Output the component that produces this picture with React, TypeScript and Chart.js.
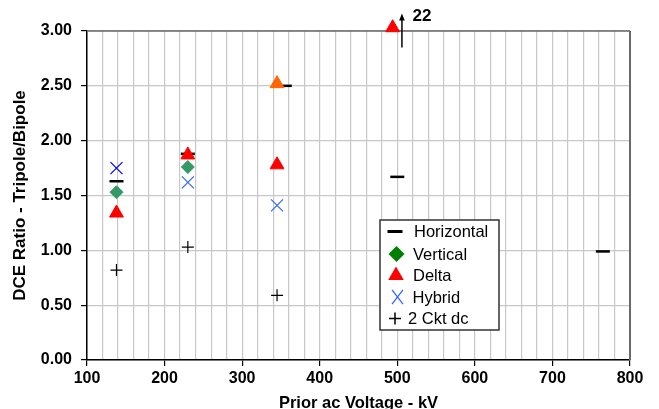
import React, { useEffect, useRef } from 'react';
import { Chart, registerables } from 'chart.js';

Chart.register(...registerables);

// ---- data ----
const horizontalKV = [138, 230, 355, 500, 765];
const horizontalRatio = [1.63, 1.88, 2.5, 1.67, 0.99];

const verticalKV = [138, 230];
const verticalRatio = [1.53, 1.76];

const deltaKV = [138, 230, 345, 345, 494];
const deltaRatio = [1.34, 1.87, 1.78, 2.52, 3.03];
const deltaColors = ['#FF0000', '#FF0000', '#FF0000', '#FF6600', '#FF0000'];

const hybridKV = [138, 230, 345];
const hybridRatio = [1.75, 1.62, 1.41];
const hybridColors = ['#0000FF', '#3366FF', '#3366FF'];

const ckt2KV = [138, 230, 345];
const ckt2Ratio = [0.82, 1.03, 0.59];

const seriesLabels = ['Horizontal', 'Vertical', 'Delta', 'Hybrid', '2 Ckt dc'];
const legendColors = ['#000000', '#008000', '#FF0000', '#3366FF', '#000000'];

// off-scale annotation
const arrowKV = 506;
const arrowFrom = 2.85;
const arrowTo = 3.16;
const arrowLabel = '22';

const toPts = (xs: number[], ys: number[]) => xs.map((x, i) => ({ x, y: ys[i] }));

function drawMarker(ctx: CanvasRenderingContext2D, style: string, color: string, x: number, y: number) {
  ctx.save();
  ctx.fillStyle = color;
  ctx.strokeStyle = color;
  ctx.beginPath();
  if (style === 'line') {
    ctx.lineWidth = 3;
    ctx.moveTo(x - 7.5, y);
    ctx.lineTo(x + 7.5, y);
    ctx.stroke();
  } else if (style === 'rectRot') {
    const r = 8;
    ctx.moveTo(x - r, y);
    ctx.lineTo(x, y - r);
    ctx.lineTo(x + r, y);
    ctx.lineTo(x, y + r);
    ctx.closePath();
    ctx.fill();
  } else if (style === 'triangle') {
    const r = 9;
    ctx.moveTo(x, y - r);
    ctx.lineTo(x + r * 0.866, y + r / 2);
    ctx.lineTo(x - r * 0.866, y + r / 2);
    ctx.closePath();
    ctx.fill();
  } else if (style === 'crossRot') {
    const h = 5.5;
    ctx.lineWidth = 1.3;
    ctx.moveTo(x - h, y - h * 1.3);
    ctx.lineTo(x + h, y + h * 1.3);
    ctx.moveTo(x + h, y - h * 1.3);
    ctx.lineTo(x - h, y + h * 1.3);
    ctx.stroke();
  } else if (style === 'cross') {
    const h = 6;
    ctx.lineWidth = 1.5;
    ctx.moveTo(x - h, y);
    ctx.lineTo(x + h, y);
    ctx.moveTo(x, y - h);
    ctx.lineTo(x, y + h);
    ctx.stroke();
  }
  ctx.restore();
}

const framePlugin = {
  id: 'frame',
  beforeDatasetsDraw(chart: any) {
    const { ctx, chartArea: a } = chart;
    ctx.save();
    ctx.strokeStyle = '#6A6A6A';
    ctx.lineWidth = 1.5;
    ctx.beginPath();
    ctx.moveTo(a.left, a.top);
    ctx.lineTo(a.right, a.top);
    ctx.stroke();
    ctx.lineWidth = 2;
    ctx.beginPath();
    ctx.moveTo(a.right, a.top);
    ctx.lineTo(a.right, a.bottom);
    ctx.stroke();
    ctx.restore();
  },
};

const annotPlugin = {
  id: 'annot',
  afterDatasetsDraw(chart: any) {
    const { ctx } = chart;
    const xs = chart.scales.x;
    const ys = chart.scales.y;
    const px = xs.getPixelForValue(arrowKV);
    const y0 = ys.getPixelForValue(arrowFrom);
    const y1 = ys.getPixelForValue(arrowTo);
    ctx.save();
    ctx.strokeStyle = '#000';
    ctx.fillStyle = '#000';
    ctx.lineWidth = 1.5;
    ctx.beginPath();
    ctx.moveTo(px, y0);
    ctx.lineTo(px, y1 + 5);
    ctx.stroke();
    ctx.beginPath();
    ctx.moveTo(px, y1);
    ctx.lineTo(px + 2.8, y1 + 7);
    ctx.lineTo(px - 2.8, y1 + 7);
    ctx.closePath();
    ctx.fill();
    ctx.font = 'bold 17px "Liberation Sans"';
    ctx.textAlign = 'left';
    ctx.textBaseline = 'middle';
    ctx.fillText(arrowLabel, px + 10.5, y1 + 3);
    ctx.restore();
  },
};

const legendPlugin = {
  id: 'boxLegend',
  afterDraw(chart: any) {
    const { ctx } = chart;
    const left = 380;
    const top = 220;
    const w = 119;
    const h = 110;
    ctx.save();
    ctx.fillStyle = '#FFFFFF';
    ctx.fillRect(left, top, w, h);
    ctx.strokeStyle = '#333333';
    ctx.lineWidth = 1.5;
    ctx.strokeRect(left, top, w, h);
    const rowY = [231.5, 254, 275.5, 297, 318.5];
    const markerX = [395, 396.5, 396, 397.5, 395];
    const textX = [414, 413, 413, 412.5, 408];
    chart.data.datasets.forEach((ds: any, i: number) => {
      drawMarker(ctx, ds.pointStyle, legendColors[i], markerX[i], rowY[i]);
      ctx.fillStyle = '#000';
      ctx.font = '16.5px "Liberation Sans"';
      ctx.textAlign = 'left';
      ctx.textBaseline = 'middle';
      ctx.fillText(seriesLabels[i], textX[i], rowY[i] + 1);
    });
    ctx.restore();
  },
};

export default function App() {
  const ref = useRef<HTMLCanvasElement>(null);
  useEffect(() => {
    const tickFont = { family: '"Liberation Sans"', weight: 'bold' as const, size: 16 };
    const chart = new Chart(ref.current!, {
      type: 'scatter',
      data: {
        datasets: [
          {
            label: seriesLabels[0],
            data: toPts(horizontalKV, horizontalRatio),
            pointStyle: 'line',
            pointRadius: 7,
            pointBorderWidth: 2.5,
            borderColor: '#000000',
            backgroundColor: '#000000',
            order: 5,
            clip: false,
          },
          {
            label: seriesLabels[1],
            data: toPts(verticalKV, verticalRatio),
            pointStyle: 'rectRot',
            pointRadius: 6.5,
            pointBorderWidth: 1,
            borderColor: '#339966',
            backgroundColor: '#339966',
            order: 4,
            clip: false,
          },
          {
            label: seriesLabels[2],
            data: toPts(deltaKV, deltaRatio),
            pointStyle: 'triangle',
            pointRadius: 8,
            pointBorderWidth: 1,
            pointBorderColor: deltaColors,
            pointBackgroundColor: deltaColors,
            borderColor: '#FF0000',
            backgroundColor: '#FF0000',
            order: 3,
            clip: false,
          },
          {
            label: seriesLabels[3],
            data: toPts(hybridKV, hybridRatio),
            pointStyle: 'crossRot',
            pointRadius: 8.5,
            pointBorderWidth: 1.2,
            pointBorderColor: hybridColors,
            pointBackgroundColor: hybridColors,
            borderColor: '#3366FF',
            backgroundColor: '#3366FF',
            order: 2,
            clip: false,
          },
          {
            label: seriesLabels[4],
            data: toPts(ckt2KV, ckt2Ratio),
            pointStyle: 'cross',
            pointRadius: 6,
            pointBorderWidth: 1.2,
            borderColor: '#000000',
            backgroundColor: '#000000',
            order: 1,
            clip: false,
          },
        ],
      },
      options: {
        animation: false,
        responsive: true,
        maintainAspectRatio: false,
        layout: { padding: { top: 31, right: 29, left: 0, bottom: 0 } },
        plugins: {
          legend: { display: false },
          tooltip: { enabled: false },
        },
        scales: {
          x: {
            type: 'linear',
            min: 100,
            max: 800,
            afterFit: (s: any) => {
              s.height = 49;
            },
            ticks: {
              stepSize: 20,
              autoSkip: false,
              maxRotation: 0,
              padding: 2.5,
              color: '#000',
              font: tickFont,
              callback: (v: any) => (Number(v) % 100 === 0 ? String(v) : ''),
            },
            grid: {
              color: '#C8C8C8',
              lineWidth: 1.2,
              tickLength: 6,
              tickColor: (c: any) => (c.tick && c.tick.value % 100 === 0 ? '#000' : 'rgba(0,0,0,0)'),
              tickWidth: 1.2,
            },
            border: { color: '#000', width: 1.5 },
            title: {
              display: true,
              text: 'Prior ac Voltage - kV',
              color: '#000',
              font: { family: '"Liberation Sans"', weight: 'bold', size: 16.5, lineHeight: 0.65 },
              padding: { top: 0, bottom: 0 },
            },
          },
          y: {
            type: 'linear',
            min: 0,
            max: 3,
            afterFit: (s: any) => {
              s.width = 87;
            },
            ticks: {
              stepSize: 0.5,
              padding: 9,
              color: '#000',
              font: tickFont,
              callback: (v: any) => Number(v).toFixed(2),
            },
            grid: {
              color: '#C8C8C8',
              lineWidth: 1.2,
              tickLength: 6,
              tickColor: '#000',
              tickWidth: 1.2,
            },
            border: { color: '#000', width: 1.5 },
            title: {
              display: true,
              text: 'DCE Ratio - Tripole/Bipole',
              color: '#000',
              font: { family: '"Liberation Sans"', weight: 'bold', size: 17 },
              padding: { top: 10.5, bottom: 0 },
            },
          },
        },
      },
      plugins: [framePlugin, annotPlugin, legendPlugin],
    });
    return () => chart.destroy();
  }, []);
  return (
    <div style={{ position: 'fixed', left: 0, top: 0, width: 659, height: 409, background: '#fff' }}>
      <canvas ref={ref} />
    </div>
  );
}
